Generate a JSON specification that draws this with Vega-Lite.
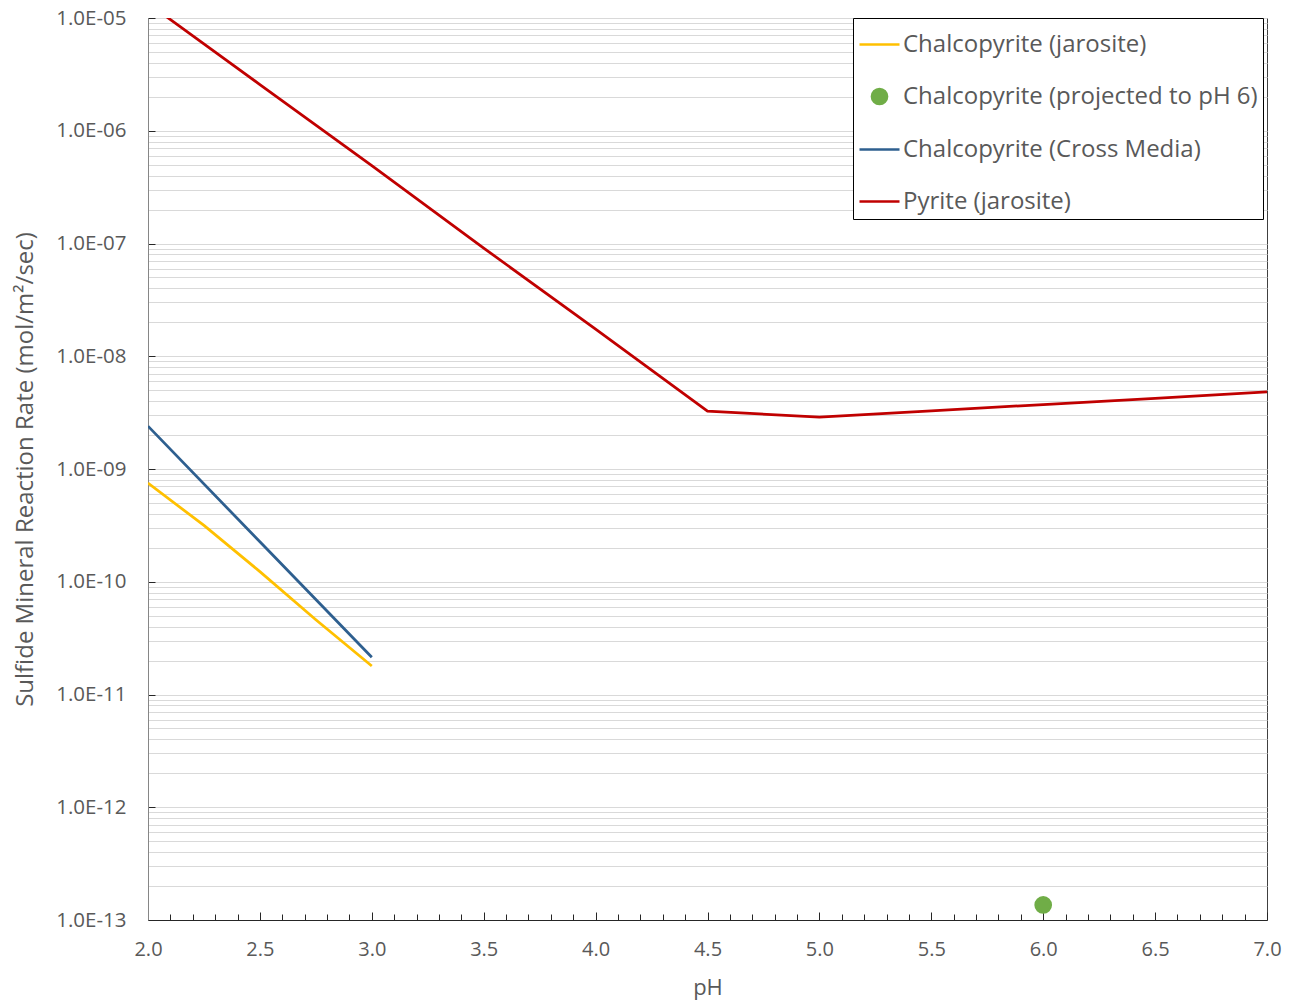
{
  "$schema": "https://vega.github.io/schema/vega-lite/v6.json",
  "width": 1119,
  "height": 902,
  "autosize": {"type": "none"},
  "padding": {"left": 148, "top": 18, "right": 23, "bottom": 84},
  "background": "white",
  "config": {
    "view": {"stroke": "#404040", "strokeWidth": 1},
    "font": "Open Sans",
    "axis": {"labelColor": "#595959", "titleColor": "#595959", "labelFont": "Open Sans", "titleFont": "Open Sans", "labelFlush": false},
    "legend": {
      "title": null,
      "orient": "none",
      "legendX": 705,
      "legendY": 0,
      "strokeColor": "#000000",
      "fillColor": "white",
      "padding": 5,
      "labelFontSize": 24,
      "labelFont": "Open Sans",
      "labelColor": "#595959",
      "labelLimit": 0,
      "labelOffset": 2,
      "symbolSize": 1600,
      "symbolStrokeWidth": 2.5,
      "rowPadding": 18,
      "cornerRadius": 0
    }
  },
  "datasets": {
    "lines": [
      {"series": "Chalcopyrite (jarosite)", "pH": 2.0, "rate": 7.5e-10},
      {"series": "Chalcopyrite (jarosite)", "pH": 2.25, "rate": 3.16e-10},
      {"series": "Chalcopyrite (jarosite)", "pH": 2.5, "rate": 1.23e-10},
      {"series": "Chalcopyrite (jarosite)", "pH": 2.75, "rate": 4.6e-11},
      {"series": "Chalcopyrite (jarosite)", "pH": 3.0, "rate": 1.79e-11},
      {"series": "Chalcopyrite (Cross Media)", "pH": 2.0, "rate": 2.4e-9},
      {"series": "Chalcopyrite (Cross Media)", "pH": 2.5, "rate": 2.26e-10},
      {"series": "Chalcopyrite (Cross Media)", "pH": 3.0, "rate": 2.14e-11},
      {"series": "Pyrite (jarosite)", "pH": 2.0, "rate": 1.35e-5},
      {"series": "Pyrite (jarosite)", "pH": 2.5, "rate": 2.57e-6},
      {"series": "Pyrite (jarosite)", "pH": 3.0, "rate": 4.9e-7},
      {"series": "Pyrite (jarosite)", "pH": 3.5, "rate": 9.1e-8},
      {"series": "Pyrite (jarosite)", "pH": 4.0, "rate": 1.74e-8},
      {"series": "Pyrite (jarosite)", "pH": 4.5, "rate": 3.26e-9},
      {"series": "Pyrite (jarosite)", "pH": 5.0, "rate": 2.89e-9},
      {"series": "Pyrite (jarosite)", "pH": 5.5, "rate": 3.28e-9},
      {"series": "Pyrite (jarosite)", "pH": 6.0, "rate": 3.73e-9},
      {"series": "Pyrite (jarosite)", "pH": 6.5, "rate": 4.24e-9},
      {"series": "Pyrite (jarosite)", "pH": 7.0, "rate": 4.82e-9}
    ],
    "points": [
      {"series": "Chalcopyrite (projected to pH 6)", "pH": 6.0, "rate": 1.36e-13}
    ]
  },
  "layer": [
    {
      "data": {"name": "lines"},
      "mark": {"type": "line", "strokeWidth": 2.75, "clip": true},
      "encoding": {
        "x": {
          "field": "pH", "type": "quantitative",
          "scale": {"domain": [2, 7], "nice": false, "zero": false},
          "axis": {
            "orient": "bottom",
            "values": [2, 2.5, 3, 3.5, 4, 4.5, 5, 5.5, 6, 6.5, 7],
            "format": ".1f",
            "title": "pH",
            "grid": false,
            "tickSize": -8,
            "tickColor": "#262626",
            "domainColor": "#262626",
            "labelFontSize": 20,
            "labelPadding": 27,
            "titleFontSize": 22,
            "titleFontWeight": "normal",
            "titlePadding": 18
          }
        },
        "y": {
          "field": "rate", "type": "quantitative",
          "scale": {"type": "log", "domain": [1e-13, 1e-5], "nice": false},
          "axis": {
            "orient": "left",
            "values": [1e-13, 1e-12, 1e-11, 1e-10, 1e-9, 1e-8, 1e-7, 1e-6, 1e-5],
            "labelExpr": "'1.0E-' + (round(-log(datum.value)/LN10) < 10 ? '0' : '') + round(-log(datum.value)/LN10)",
            "title": "Sulfide Mineral Reaction Rate (mol/m²/sec)",
            "grid": false,
            "tickSize": -7,
            "tickColor": "#262626",
            "domainColor": "#868686",
            "labelFontSize": 20.5,
            "labelPadding": 29,
            "titleFontSize": 24,
            "titleFontWeight": "normal",
            "titlePadding": 18
          }
        },
        "color": {
          "field": "series", "type": "nominal",
          "scale": {
            "domain": ["Chalcopyrite (jarosite)", "Chalcopyrite (projected to pH 6)", "Chalcopyrite (Cross Media)", "Pyrite (jarosite)"],
            "range": ["#FFC000", "#70AD47", "#2E5F8F", "#C00000"]
          },
          "legend": {
            "encode": {
              "symbols": {
                "update": {
                  "fill": {"scale": "color", "field": "value"},
                  "stroke": {"scale": "color", "field": "value"},
                  "opacity": {"value": 1},
                  "size": {"value": 1600},
                  "strokeWidth": {"value": 2.5}
                }
              }
            }
          }
        }
      }
    },
    {
      "data": {"name": "points"},
      "mark": {"type": "point", "filled": true, "opacity": 1, "size": 1600, "stroke": "#70AD47", "strokeWidth": 2.5},
      "encoding": {
        "x": {
          "field": "pH", "type": "quantitative",
          "axis": {
            "orient": "bottom",
            "values": [2.1, 2.2, 2.3, 2.4, 2.6, 2.7, 2.8, 2.9, 3.1, 3.2, 3.3, 3.4, 3.6, 3.7, 3.8, 3.9, 4.1, 4.2, 4.3, 4.4, 4.6, 4.7, 4.8, 4.9, 5.1, 5.2, 5.3, 5.4, 5.6, 5.7, 5.8, 5.9, 6.1, 6.2, 6.3, 6.4, 6.6, 6.7, 6.8, 6.9],
            "labels": false,
            "domain": false,
            "title": null,
            "grid": false,
            "tickSize": -6,
            "tickColor": "#262626"
          }
        },
        "y": {
          "field": "rate", "type": "quantitative",
          "axis": {
            "orient": "right",
            "values": [1e-13, 2e-13, 3e-13, 4e-13, 5e-13, 6e-13, 7e-13, 8e-13, 9e-13,
                       1e-12, 2e-12, 3e-12, 4e-12, 5e-12, 6e-12, 7e-12, 8e-12, 9e-12,
                       1e-11, 2e-11, 3e-11, 4e-11, 5e-11, 6e-11, 7e-11, 8e-11, 9e-11,
                       1e-10, 2e-10, 3e-10, 4e-10, 5e-10, 6e-10, 7e-10, 8e-10, 9e-10,
                       1e-9, 2e-9, 3e-9, 4e-9, 5e-9, 6e-9, 7e-9, 8e-9, 9e-9,
                       1e-8, 2e-8, 3e-8, 4e-8, 5e-8, 6e-8, 7e-8, 8e-8, 9e-8,
                       1e-7, 2e-7, 3e-7, 4e-7, 5e-7, 6e-7, 7e-7, 8e-7, 9e-7,
                       1e-6, 2e-6, 3e-6, 4e-6, 5e-6, 6e-6, 7e-6, 8e-6, 9e-6, 1e-5],
            "labels": false,
            "ticks": false,
            "domain": false,
            "title": null,
            "grid": true,
            "gridColor": "#d9d9d9",
            "gridWidth": 1,
            "zindex": 0
          }
        },
        "color": {
          "field": "series", "type": "nominal",
          "legend": {
            "encode": {
              "symbols": {
                "update": {
                  "fill": {"scale": "color", "field": "value"},
                  "stroke": {"scale": "color", "field": "value"},
                  "opacity": {"value": 1},
                  "size": {"value": 1600},
                  "strokeWidth": {"value": 2.5}
                }
              }
            }
          }
        },
        "shape": {
          "field": "series", "type": "nominal",
          "scale": {
            "domain": ["Chalcopyrite (jarosite)", "Chalcopyrite (projected to pH 6)", "Chalcopyrite (Cross Media)", "Pyrite (jarosite)"],
            "range": ["stroke", "M-0.38,0A0.38,0.38,0,1,1,0.38,0A0.38,0.38,0,1,1,-0.38,0Z", "stroke", "stroke"]
          },
          "legend": {}
        }
      }
    }
  ],
  "resolve": {"axis": {"x": "independent", "y": "independent"}}
}
